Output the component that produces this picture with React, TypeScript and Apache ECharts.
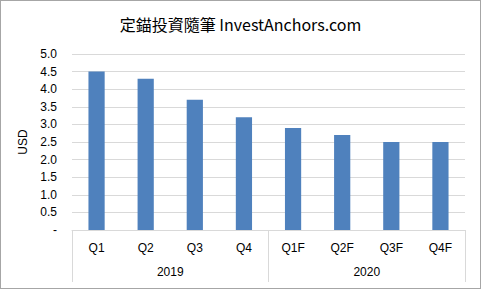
import React, { useEffect, useRef } from "react";
import * as echarts from "echarts";

const quarters = ["Q1", "Q2", "Q3", "Q4", "Q1F", "Q2F", "Q3F", "Q4F"];
const years = ["2019", "2020"];
const values = [4.5, 4.3, 3.7, 3.2, 2.9, 2.7, 2.5, 2.5];
const titleText = "定錨投資隨筆 InvestAnchors.com";

export default function App() {
  const ref = useRef<HTMLDivElement>(null);
  useEffect(() => {
    if (!ref.current) return;
    const chart = echarts.init(ref.current, undefined, { renderer: "svg" });
    const font = "'Liberation Sans', 'Noto Sans CJK TC', sans-serif";
    chart.setOption({
      animation: false,
      textStyle: { fontFamily: font },
      title: {
        text: titleText,
        left: "center",
        top: 11,
        textStyle: {
          fontFamily: "'Noto Sans CJK TC', 'Open Sans', sans-serif",
          fontSize: 16,
          fontWeight: "normal",
          color: "#000",
        },
      },
      grid: { left: 72, right: 16, top: 54, bottom: 59, containLabel: false },
      xAxis: [
        {
          type: "category",
          data: quarters,
          position: "bottom",
          axisLine: { show: true, lineStyle: { color: "#d9d9d9", width: 1 } },
          axisTick: { show: false },
          axisLabel: { color: "#000", fontSize: 12, margin: 12, fontFamily: font },
        },
        {
          type: "category",
          data: years,
          position: "bottom",
          axisLine: { show: false },
          axisTick: { show: true, length: 52, lineStyle: { color: "#d9d9d9", width: 1 } },
          axisLabel: { color: "#000", fontSize: 12, margin: 36, fontFamily: font },
        },
      ],
      yAxis: {
        type: "value",
        min: 0,
        max: 5,
        interval: 0.5,
        name: "USD",
        nameLocation: "middle",
        nameGap: 40,
        nameRotate: 90,
        nameTextStyle: { color: "#000", fontSize: 12, fontFamily: font },
        axisLine: { show: false },
        axisTick: { show: false },
        splitLine: { lineStyle: { color: "#d9d9d9", width: 1 } },
        axisLabel: {
          color: "#000",
          fontSize: 12,
          margin: 15,
          fontFamily: font,
          formatter: (v: number) => (v === 0 ? "-" : v.toFixed(1)),
        },
      },
      series: [
        {
          type: "bar",
          xAxisIndex: 0,
          data: values,
          barWidth: "33%",
          itemStyle: { color: "#4f81bd" },
        },
      ],
    });
    return () => chart.dispose();
  }, []);
  return (
    <div
      style={{
        position: "absolute",
        left: 0,
        top: 0,
        width: 481,
        height: 289,
        background: "#fff",
      }}
    >
      <div ref={ref} style={{ width: 481, height: 289 }} />
      <div
        style={{
          position: "absolute",
          left: 0,
          top: 0,
          width: 481,
          height: 289,
          boxSizing: "border-box",
          border: "1px solid #a6a6a6",
          pointerEvents: "none",
        }}
      />
    </div>
  );
}
